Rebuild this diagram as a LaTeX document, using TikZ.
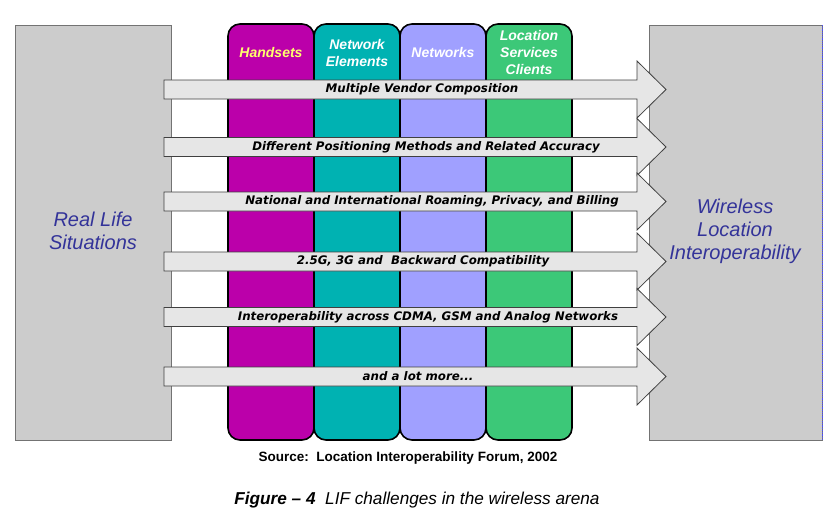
\documentclass[tikz,border=0pt]{standalone}
\usepackage{fontspec}
\setmainfont{Liberation Sans}
\newfontfamily\barfont{DejaVu Sans}
\usepackage{xcolor}
\usepackage{tikz}
\usetikzlibrary{positioning}

\definecolor{handset}{RGB}{187,0,170}
\definecolor{netelem}{RGB}{0,178,178}
\definecolor{networks}{RGB}{160,160,255}
\definecolor{lsclient}{RGB}{60,200,120}
\definecolor{boxgray}{RGB}{204,204,204}
\definecolor{bargray}{RGB}{230,230,230}
\definecolor{titleblue}{RGB}{51,51,153}
\definecolor{headyellow}{RGB}{255,255,110}

\begin{document}
\begin{tikzpicture}[
    x=1pt, y=-1pt,
    sidebox/.style={draw=black!55, fill=boxgray, line width=0.8pt},
    column/.style={draw=black, line width=1.6pt, rounded corners=12pt},
    colhead/.style={font=\fontsize{14}{17}\selectfont\bfseries\itshape, text=white, align=center, inner sep=0pt},
    sidetext/.style={font=\fontsize{20}{23}\selectfont\itshape, text=titleblue, align=center, inner sep=0pt},
    bar/.style={draw=black!75, fill=bargray, line width=0.8pt},
    barlabel/.style={font=\barfont\fontsize{11.8}{14}\selectfont\bfseries\itshape, inner sep=0pt}
]
\useasboundingbox (0,0) rectangle (839,523);

% side boxes
\draw[sidebox] (15,25) rectangle (171,440);
\draw[sidebox] (649,25) rectangle (822,440);
\draw[blue!70, densely dotted, line width=0.8pt] (822,25) -- (822,440);
\node[sidetext] (real) at (93,231) {Real Life\\Situations};
\node[sidetext] (wli) at (735,231) {Wireless\\Location\\Interoperability};

% columns
\foreach \xl/\xr/\col in {228/314/handset, 314/400/netelem, 400/486/networks, 486/572/lsclient}
  \draw[column, fill=\col] (\xl,24) rectangle (\xr,440);

\node[colhead, text=headyellow] (hand) at (271,52) {Handsets};
\node[colhead] (elem) at (357,52.5) {Network\\Elements};
\node[colhead] (nets) at (443,52) {Networks};
\node[colhead] (lsc) at (529,52) {Location\\Services\\Clients};

% challenge arrows
\foreach \y/\xc/\name/\txt in {
    89.5/422/vendor/{Multiple Vendor Composition},
    147/426/posn/{Different Positioning Methods and Related Accuracy},
    201.5/432/roam/{National and International Roaming, Privacy, and Billing},
    261.5/423/compat/{2.5G, 3G and\ \ Backward Compatibility},
    317/428/cdma/{Interoperability across CDMA, GSM and Analog Networks},
    376.5/418/more/{and a lot more...}}{
  \draw[bar] (164,\y-9.5) -- (637,\y-9.5) -- (637,\y-28.5) -- (666,\y)
    -- (637,\y+28.5) -- (637,\y+9.5) -- (164,\y+9.5) -- cycle;
  \node[barlabel] (\name) at (\xc,\y) {\txt};
}

% source and caption
\node[font=\fontsize{13.5}{15}\selectfont\bfseries] (src) at (408,458) {Source:\ \ Location Interoperability Forum, 2002};
\node[font=\fontsize{17.2}{19}\selectfont\itshape] (cap) at (417,500) {\textbf{Figure -- 4}\ \ LIF challenges in the wireless arena};

\end{tikzpicture}
\end{document}
